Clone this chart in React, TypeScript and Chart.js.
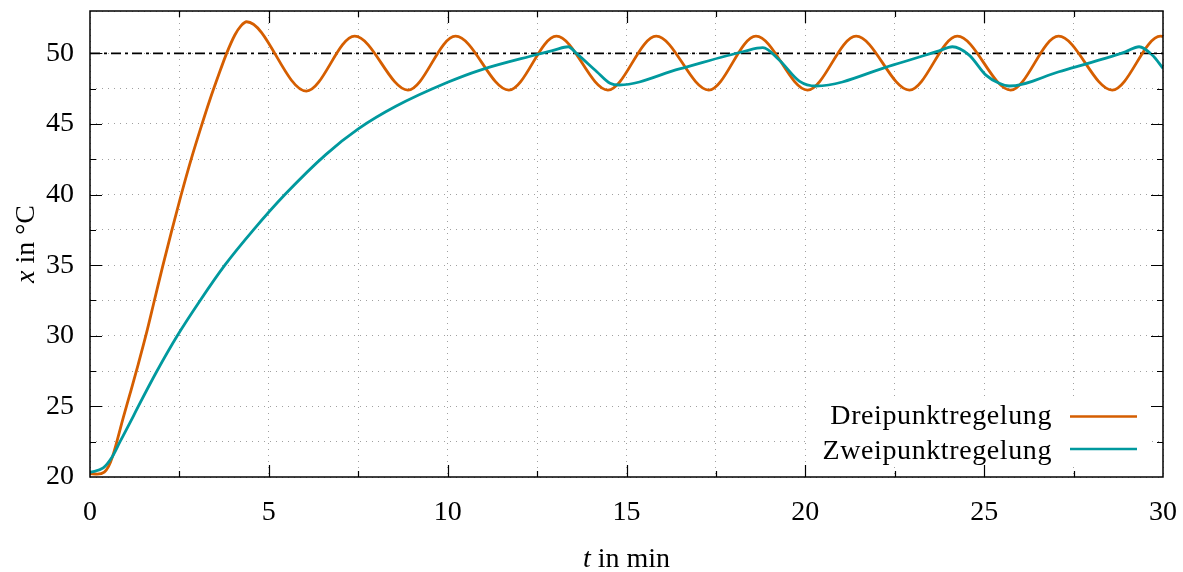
import { useEffect, useRef } from 'react';
import { Chart, registerables } from 'chart.js';

Chart.register(...registerables);

// t in min, x in °C
const DREI_T = [0, 0.2, 0.4, 0.52, 0.63, 0.74, 0.93, 1.12, 1.35, 1.58, 1.8, 2.03, 2.28, 2.54, 2.84, 3.12, 3.35, 3.6, 3.82, 4.05, 4.22, 4.38, 6.05, 7.4, 8.89, 10.22, 11.71, 13.04, 14.48, 15.83, 17.3, 18.62, 20.06, 21.42, 22.91, 24.25, 25.74, 27.08, 28.58, 29.93, 30];
const DREI_X = [20.25, 20.2, 20.35, 20.75, 21.45, 22.4, 24.2, 25.9, 28.0, 30.2, 32.5, 34.9, 37.4, 39.9, 42.6, 44.9, 46.7, 48.5, 50.0, 51.3, 51.95, 52.24, 47.33, 51.22, 47.4, 51.22, 47.4, 51.22, 47.4, 51.22, 47.4, 51.22, 47.4, 51.22, 47.4, 51.22, 47.4, 51.22, 47.4, 51.22, 51.2];

const ZWEI_T = [0, 0.37, 0.6, 0.84, 1.21, 1.35, 1.85, 2.44, 3.08, 3.77, 4.57, 5.45, 6.6, 7.5, 8.55, 10.0, 10.89, 12.5, 13.0, 13.37, 13.6, 14.17, 14.54, 14.8, 16.48, 18.3, 18.81, 19.27, 19.83, 20.3, 22.44, 23.74, 24.11, 24.58, 25.05, 25.42, 25.7, 27.09, 28.95, 29.33, 29.7, 30];
const ZWEI_X = [20.33, 20.64, 21.34, 22.5, 24.3, 25.0, 27.4, 30.0, 32.5, 35.0, 37.5, 40.0, 42.85, 44.65, 46.25, 47.95, 48.8, 49.92, 50.25, 50.47, 50.0, 48.7, 47.88, 47.76, 48.9, 50.15, 50.4, 49.53, 48.04, 47.69, 49.17, 50.18, 50.47, 49.88, 48.46, 47.88, 47.69, 48.7, 50.11, 50.47, 49.88, 48.94];

const SOLL_T = [0, 30];
const SOLL_X = [50, 50];

const X_LABELS = [0, 5, 10, 15, 20, 25, 30];
const Y_LABELS = [20, 25, 30, 35, 40, 45, 50];

const SERIES_NAMES = ['Dreipunktregelung', 'Zweipunktregelung'];
const ORANGE = '#d55e00';
const TEAL = '#00999e';
const FONT = '"Liberation Serif", "Times New Roman", serif';

const pts = (t: number[], x: number[]) => t.map((v, i) => ({ x: v, y: x[i] }));

const zeroPad = (s: any) => {
  s.paddingTop = 0;
  s.paddingBottom = 0;
  s.paddingLeft = 0;
  s.paddingRight = 0;
};

const decor = {
  id: 'decor',
  afterDatasetsDraw(chart: any) {
    const { ctx, chartArea: a, scales } = chart;
    ctx.save();

    // legend box
    const boxL = a.right - 355, boxT = a.bottom - 77, boxR = a.right - 13, boxB = a.bottom - 11;
    ctx.fillStyle = '#fff';
    ctx.fillRect(boxL, boxT, boxR - boxL, boxB - boxT);
    ctx.font = `28px ${FONT}`;
    ctx.textAlign = 'right';
    ctx.textBaseline = 'alphabetic';
    try { (ctx as any).letterSpacing = '0.6px'; } catch (e) { /* ignore */ }
    const legendItems = [
      { name: SERIES_NAMES[0], color: ORANGE, base: a.bottom - 53, ly: a.bottom - 60.5 },
      { name: SERIES_NAMES[1], color: TEAL, base: a.bottom - 18.5, ly: a.bottom - 28 },
    ];
    for (const it of legendItems) {
      ctx.fillStyle = '#000';
      ctx.fillText(it.name, a.right - 111, it.base);
      ctx.strokeStyle = it.color;
      ctx.lineWidth = 2.6;
      ctx.beginPath();
      ctx.moveTo(a.right - 93, it.ly);
      ctx.lineTo(a.right - 26, it.ly);
      ctx.stroke();
    }
    try { (ctx as any).letterSpacing = '0px'; } catch (e) { /* ignore */ }

    // ticks (inside, mirrored)
    ctx.strokeStyle = '#000';
    ctx.lineWidth = 1.2;
    const xs = scales.x, ys = scales.y;
    ctx.beginPath();
    for (const t of xs.ticks) {
      if (t.value <= xs.min || t.value >= xs.max) continue;
      const p = Math.round(xs.getPixelForValue(t.value)) + 0.5;
      const len = X_LABELS.includes(t.value) ? 12 : 6;
      ctx.moveTo(p, a.bottom); ctx.lineTo(p, a.bottom - len);
      ctx.moveTo(p, a.top); ctx.lineTo(p, a.top + len);
    }
    for (const t of ys.ticks) {
      if (t.value <= ys.min || t.value >= ys.max) continue;
      const p = Math.round(ys.getPixelForValue(t.value)) + 0.5;
      const len = Y_LABELS.includes(t.value) ? 12 : 6;
      ctx.moveTo(a.left, p); ctx.lineTo(a.left + len, p);
      ctx.moveTo(a.right, p); ctx.lineTo(a.right - len, p);
    }
    ctx.stroke();

    // frame
    ctx.lineWidth = 1.5;
    ctx.strokeRect(a.left, a.top, a.right - a.left, a.bottom - a.top);

    // axis titles
    ctx.fillStyle = '#000';
    ctx.textAlign = 'left';
    const drawMixed = (italic: string, rest: string, cx: number, cy: number, rot: number) => {
      ctx.save();
      ctx.translate(cx, cy);
      ctx.rotate(rot);
      ctx.font = `italic 28px ${FONT}`;
      const w1 = ctx.measureText(italic).width;
      ctx.font = `28px ${FONT}`;
      const w2 = ctx.measureText(rest).width;
      const x0 = -(w1 + w2) / 2;
      ctx.font = `italic 28px ${FONT}`;
      ctx.fillText(italic, x0, 0);
      ctx.font = `28px ${FONT}`;
      ctx.fillText(rest, x0 + w1, 0);
      ctx.restore();
    };
    drawMixed('t', ' in min', (a.left + a.right) / 2, 567, 0);
    drawMixed('x', ' in \u00B0C', 34, (a.top + a.bottom) / 2, -Math.PI / 2);

    ctx.restore();
  },
};

export default function App() {
  const ref = useRef<HTMLCanvasElement | null>(null);
  useEffect(() => {
    if (!ref.current) return;
    const chart = new Chart(ref.current, {
      type: 'line',
      data: {
        datasets: [
          {
            label: SERIES_NAMES[1],
            data: pts(ZWEI_T, ZWEI_X),
            borderColor: TEAL,
            borderWidth: 2.8,
            pointRadius: 0,
            cubicInterpolationMode: 'monotone',
            order: 0,
          },
          {
            label: SERIES_NAMES[0],
            data: pts(DREI_T, DREI_X),
            borderColor: ORANGE,
            borderWidth: 2.8,
            pointRadius: 0,
            cubicInterpolationMode: 'monotone',
            order: 1,
          },
          {
            label: 'Sollwert',
            data: pts(SOLL_T, SOLL_X),
            borderColor: '#000',
            borderWidth: 1.9,
            borderDash: [10, 4, 3, 4],
            pointRadius: 0,
            order: 2,
          },
        ],
      } as any,
      options: {
        animation: false,
        responsive: false,
        layout: { padding: { top: 11, right: 20, left: 0, bottom: 0 } },
        plugins: { legend: { display: false }, tooltip: { enabled: false } },
        scales: {
          x: {
            type: 'linear',
            min: 0,
            max: 30,
            afterFit: (s: any) => { s.height = 95; zeroPad(s); },
            ticks: {
              stepSize: 2.5,
              autoSkip: false,
              maxRotation: 0,
              padding: 19,
              color: '#000',
              font: { family: FONT, size: 28 },
              callback: (v: any) => (X_LABELS.includes(v) ? String(v) : ''),
            },
            grid: { color: '#a0a0a0', lineWidth: 1, drawTicks: false, borderDash: [1, 5] } as any,
            border: { display: false, dash: [1, 5] },
          },
          y: {
            type: 'linear',
            min: 20,
            max: 53,
            afterFit: (s: any) => { s.width = 90; zeroPad(s); },
            ticks: {
              stepSize: 2.5,
              autoSkip: false,
              padding: 16,
              color: '#000',
              font: { family: FONT, size: 28 },
              callback: (v: any) => (Y_LABELS.includes(v) ? String(v) : ''),
            },
            grid: { color: '#a0a0a0', lineWidth: 1, drawTicks: false, borderDash: [1, 5] } as any,
            border: { display: false, dash: [1, 5] },
          },
        },
      } as any,
      plugins: [decor],
    });
    return () => chart.destroy();
  }, []);
  return (
    <div style={{ position: 'fixed', left: 0, top: 0, width: 1183, height: 572, background: '#fff' }}>
      <canvas ref={ref} width={1183} height={572} style={{ display: 'block' }} />
    </div>
  );
}
